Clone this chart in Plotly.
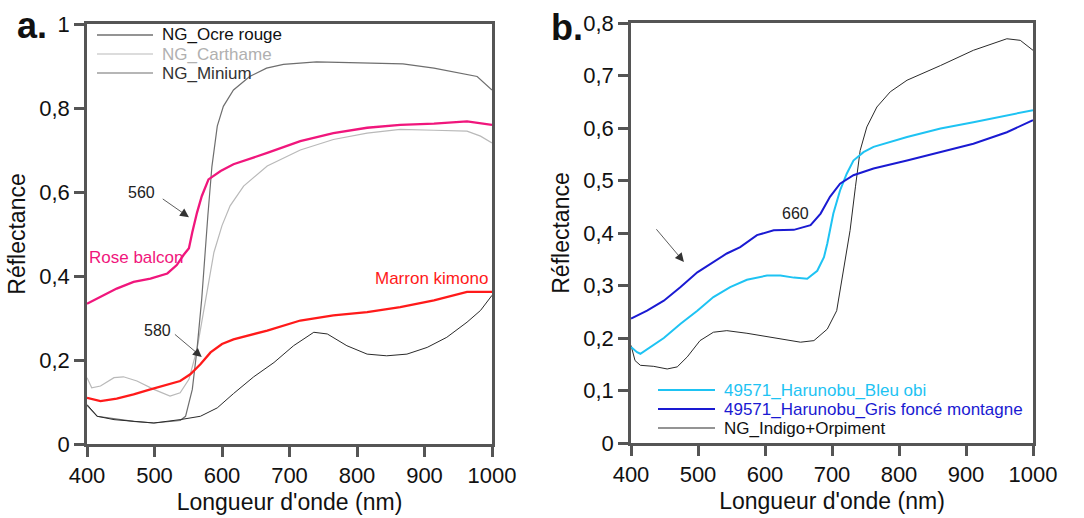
import plotly.graph_objects as go

# ---------- Panel a data ----------
ocre_x = [400, 415, 440, 469, 499, 538, 568, 593, 617, 647, 677, 706, 736, 756, 785, 815, 844, 874, 904, 933, 963, 983, 1000]
ocre_y = [0.094, 0.066, 0.058, 0.054, 0.050, 0.058, 0.066, 0.086, 0.120, 0.160, 0.194, 0.234, 0.266, 0.262, 0.234, 0.214, 0.210, 0.214, 0.230, 0.254, 0.290, 0.318, 0.354]

minium_x = [400, 415, 469, 499, 538, 546, 556, 563, 570, 575, 579, 585, 593, 602, 617, 641, 666, 691, 740, 789, 839, 868, 914, 953, 978, 1000]
minium_y = [0.092, 0.066, 0.054, 0.050, 0.056, 0.066, 0.130, 0.226, 0.346, 0.466, 0.543, 0.660, 0.757, 0.804, 0.843, 0.875, 0.895, 0.904, 0.910, 0.908, 0.905, 0.905, 0.895, 0.883, 0.875, 0.843]

carth_x = [400, 407, 420, 440, 454, 474, 499, 523, 538, 551, 563, 573, 588, 600, 612, 632, 667, 716, 765, 815, 864, 914, 963, 983, 1000]
carth_y = [0.158, 0.134, 0.138, 0.158, 0.160, 0.150, 0.130, 0.114, 0.122, 0.154, 0.226, 0.320, 0.456, 0.520, 0.567, 0.614, 0.662, 0.700, 0.725, 0.740, 0.749, 0.747, 0.745, 0.733, 0.717]

rose_x = [400, 420, 444, 469, 494, 519, 533, 543, 551, 556, 563, 570, 580, 598, 617, 667, 716, 765, 815, 864, 914, 963, 1000]
rose_y = [0.334, 0.350, 0.370, 0.386, 0.394, 0.406, 0.426, 0.450, 0.466, 0.504, 0.551, 0.590, 0.630, 0.650, 0.666, 0.693, 0.721, 0.740, 0.753, 0.760, 0.763, 0.768, 0.760]

marron_x = [400, 420, 444, 469, 494, 519, 538, 553, 568, 583, 600, 617, 667, 716, 765, 815, 864, 914, 963, 1000]
marron_y = [0.110, 0.102, 0.108, 0.118, 0.130, 0.142, 0.150, 0.166, 0.190, 0.218, 0.238, 0.249, 0.270, 0.294, 0.306, 0.314, 0.326, 0.342, 0.362, 0.362]

# ---------- Panel b data ----------
bleu_x = [400, 409, 414, 429, 449, 474, 499, 523, 548, 573, 603, 623, 643, 663, 678, 688, 693, 702, 712, 722, 732, 747, 762, 812, 862, 911, 961, 1000]
bleu_y = [0.183, 0.173, 0.170, 0.183, 0.200, 0.227, 0.252, 0.278, 0.297, 0.311, 0.319, 0.319, 0.315, 0.313, 0.328, 0.354, 0.380, 0.437, 0.481, 0.513, 0.538, 0.554, 0.564, 0.583, 0.599, 0.611, 0.624, 0.634]

gris_x = [400, 424, 449, 474, 499, 523, 543, 563, 588, 613, 643, 668, 683, 697, 712, 732, 762, 812, 862, 911, 961, 1000]
gris_y = [0.237, 0.252, 0.271, 0.297, 0.325, 0.344, 0.361, 0.373, 0.396, 0.405, 0.406, 0.415, 0.437, 0.469, 0.494, 0.510, 0.523, 0.538, 0.554, 0.570, 0.592, 0.615]

indigo_x = [400, 406, 414, 434, 454, 469, 484, 503, 523, 543, 573, 613, 653, 673, 693, 707, 717, 722, 727, 735, 742, 752, 767, 787, 812, 862, 911, 961, 981, 1000]
indigo_y = [0.186, 0.157, 0.148, 0.146, 0.141, 0.145, 0.164, 0.195, 0.211, 0.214, 0.209, 0.200, 0.192, 0.195, 0.217, 0.252, 0.328, 0.367, 0.405, 0.488, 0.557, 0.602, 0.640, 0.669, 0.691, 0.719, 0.748, 0.770, 0.767, 0.748]

a_ticks = [0, 0.2, 0.4, 0.6, 0.8, 1]
a_ticktext = ["0", "0,2", "0,4", "0,6", "0,8", "1"]
b_ticks = [0, 0.1, 0.2, 0.3, 0.4, 0.5, 0.6, 0.7, 0.8]
b_ticktext = ["0", "0,1", "0,2", "0,3", "0,4", "0,5", "0,6", "0,7", "0,8"]
x_ticks = [400, 500, 600, 700, 800, 900, 1000]

legend_a_names = ["NG_Ocre rouge", "NG_Carthame", "NG_Minium"]
legend_b_names = ["49571_Harunobu_Bleu obi", "49571_Harunobu_Gris foncé montagne", "NG_Indigo+Orpiment"]

FONT = "Liberation Sans, Arial, sans-serif"
FRAME = "#555555"
W, H = 1084, 518

C_OCRE, C_CARTH, C_MIN = "#2a2a2a", "#b9b9b9", "#6e6e6e"
C_ROSE, C_MARRON = "#f0167c", "#ff1a1a"
C_BLEU, C_GRIS, C_IND = "#1ec3f3", "#1a1ad2", "#2a2a2a"

fig = go.Figure()

# Panel a
fig.add_trace(go.Scatter(x=carth_x, y=carth_y, mode="lines", line=dict(color=C_CARTH, width=1.2),
                         name=legend_a_names[1], xaxis="x", yaxis="y"))
fig.add_trace(go.Scatter(x=minium_x, y=minium_y, mode="lines", line=dict(color=C_MIN, width=1.2),
                         name=legend_a_names[2], xaxis="x", yaxis="y"))
fig.add_trace(go.Scatter(x=ocre_x, y=ocre_y, mode="lines", line=dict(color=C_OCRE, width=1),
                         name=legend_a_names[0], xaxis="x", yaxis="y"))
fig.add_trace(go.Scatter(x=rose_x, y=rose_y, mode="lines", line=dict(color=C_ROSE, width=2.3),
                         name="Rose balcon", xaxis="x", yaxis="y"))
fig.add_trace(go.Scatter(x=marron_x, y=marron_y, mode="lines", line=dict(color=C_MARRON, width=2.3),
                         name="Marron kimono", xaxis="x", yaxis="y"))

# Panel b
fig.add_trace(go.Scatter(x=indigo_x, y=indigo_y, mode="lines", line=dict(color=C_IND, width=1),
                         name=legend_b_names[2], xaxis="x2", yaxis="y2"))
fig.add_trace(go.Scatter(x=bleu_x, y=bleu_y, mode="lines", line=dict(color=C_BLEU, width=2),
                         name=legend_b_names[0], xaxis="x2", yaxis="y2"))
fig.add_trace(go.Scatter(x=gris_x, y=gris_y, mode="lines", line=dict(color=C_GRIS, width=2),
                         name=legend_b_names[1], xaxis="x2", yaxis="y2"))

axis_common = dict(showline=True, mirror=True, linecolor=FRAME, linewidth=2.5, ticks="outside",
                   ticklen=10, tickwidth=2.5, tickcolor=FRAME, showgrid=False, zeroline=False,
                   automargin=False, tickfont=dict(size=22, color="#111111", family=FONT))


def px_x(p):
    return p / W


def px_y(p):
    return 1 - p / H


fig.update_layout(
    width=W, height=H,
    margin=dict(l=0, r=0, t=0, b=0),
    paper_bgcolor="white", plot_bgcolor="white",
    font=dict(family=FONT, color="#111111"),
    showlegend=False,
    xaxis=dict(domain=[px_x(87), px_x(492)], range=[400, 1000], tickvals=x_ticks, anchor="y",
               title=dict(text="Longueur d'onde (nm)", font=dict(size=23), standoff=7), **axis_common),
    yaxis=dict(domain=[px_y(444), px_y(24)], range=[0, 1], tickvals=a_ticks, ticktext=a_ticktext, anchor="x",
               title=dict(text="Réflectance", font=dict(size=23), standoff=8), **axis_common),
    xaxis2=dict(domain=[px_x(631), px_x(1033)], range=[400, 1000], tickvals=x_ticks, anchor="y2",
                title=dict(text="Longueur d'onde (nm)", font=dict(size=23), standoff=7), **axis_common),
    yaxis2=dict(domain=[px_y(443), px_y(23)], range=[0, 0.8], tickvals=b_ticks, ticktext=b_ticktext, anchor="x2",
                title=dict(text="Réflectance", font=dict(size=23), standoff=8), **axis_common),
)

ann = []
shapes = []


# custom legends (sample line + coloured text)
def add_legend(names, line_colors, text_colors, widths, x0, x1, xt, ys):
    for n, lc, tc, w, yy in zip(names, line_colors, text_colors, widths, ys):
        shapes.append(dict(type="line", xref="paper", yref="paper", x0=px_x(x0), x1=px_x(x1),
                           y0=px_y(yy), y1=px_y(yy), line=dict(color=lc, width=w)))
        ann.append(dict(text=n, xref="paper", yref="paper", x=px_x(xt), y=px_y(yy), xanchor="left",
                        yanchor="middle", showarrow=False, font=dict(size=17, color=tc, family=FONT)))


add_legend(legend_a_names, [C_OCRE, C_CARTH, C_MIN], ["#111111", "#b0b0b0", "#333333"], [1.2, 1.2, 1.2],
           97, 153, 160, [35, 54, 73])
add_legend(legend_b_names, [C_BLEU, C_GRIS, C_IND], [C_BLEU, C_GRIS, "#111111"], [2, 2, 1.2],
           658, 715, 722, [390, 409, 428])

# panel letters
ann.append(dict(text="<b>a.</b>", xref="paper", yref="paper", x=px_x(15), y=px_y(25), xanchor="left", yanchor="middle",
                showarrow=False, font=dict(size=36, color="#111111", family=FONT)))
ann.append(dict(text="<b>b.</b>", xref="paper", yref="paper", x=px_x(549), y=px_y(27), xanchor="left", yanchor="middle",
                showarrow=False, font=dict(size=36, color="#111111", family=FONT)))
# panel a labels
ann.append(dict(text="Rose balcon", x=473, y=0.443, xref="x", yref="y", showarrow=False,
                font=dict(size=17, color=C_ROSE)))
ann.append(dict(text="Marron kimono", x=910, y=0.393, xref="x", yref="y", showarrow=False,
                font=dict(size=17, color=C_MARRON)))
ann.append(dict(text="560", x=480, y=0.598, xref="x", yref="y", showarrow=False, font=dict(size=16, color="#222222")))
ann.append(dict(text="580", x=504, y=0.271, xref="x", yref="y", showarrow=False, font=dict(size=16, color="#222222")))
ann.append(dict(text="", x=551, y=0.54, ax=510, ay=0.586, xref="x", yref="y", axref="x", ayref="y",
                showarrow=True, arrowhead=2, arrowsize=2.2, arrowwidth=0.8, arrowcolor="#333333"))
ann.append(dict(text="", x=570, y=0.207, ax=528, ay=0.264, xref="x", yref="y", axref="x", ayref="y",
                showarrow=True, arrowhead=2, arrowsize=2.2, arrowwidth=0.8, arrowcolor="#333333"))
# panel b labels
ann.append(dict(text="660", x=646, y=0.438, xref="x2", yref="y2", showarrow=False, font=dict(size=16, color="#222222")))
ann.append(dict(text="", x=479, y=0.345, ax=436, ay=0.41, xref="x2", yref="y2", axref="x2", ayref="y2",
                showarrow=True, arrowhead=2, arrowsize=2.2, arrowwidth=0.8, arrowcolor="#333333"))
fig.update_layout(annotations=ann, shapes=shapes)

fig.write_html("out.html", config={"displayModeBar": False},
               post_script="document.body.style.margin='0';document.body.style.overflow='hidden';")
